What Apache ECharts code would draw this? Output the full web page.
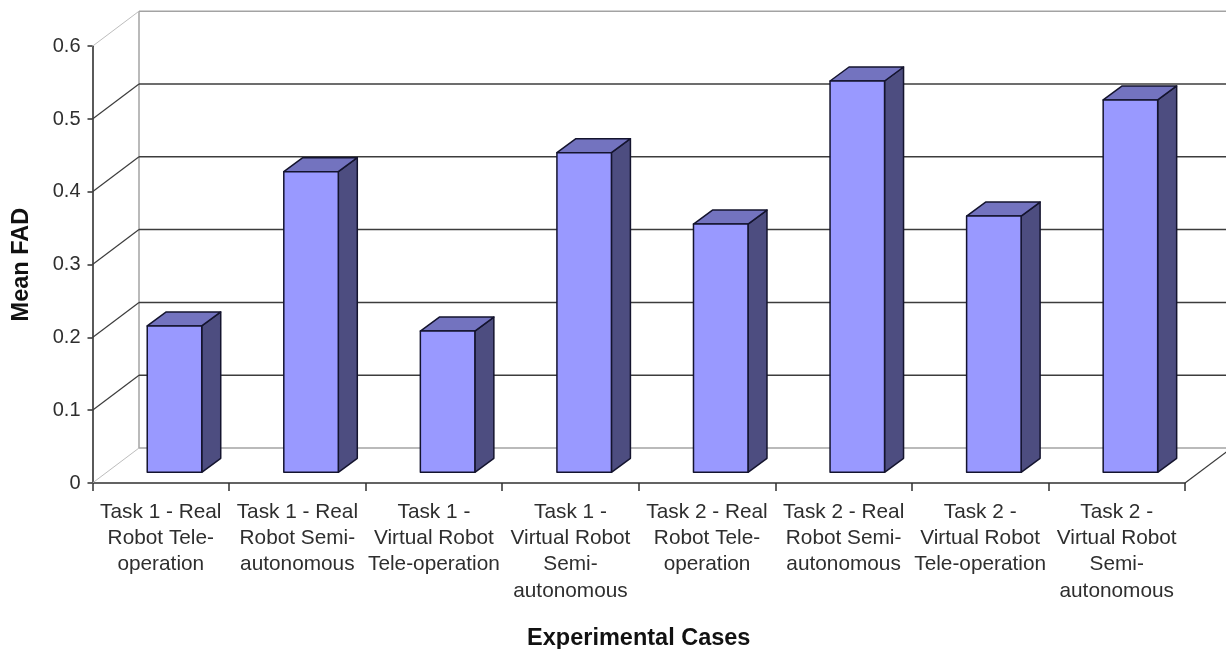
<!DOCTYPE html>
<html>
<head>
<meta charset="utf-8">
<style>html,body{margin:0;padding:0;background:#fff}#c{width:1226px;height:649px}</style>
<script src="https://cdn.jsdelivr.net/npm/echarts@6/dist/echarts.min.js"></script>
</head>
<body>
<div id="c"></div>
<script>
const categories = [
  'Task 1 - Real\nRobot Tele-\noperation',
  'Task 1 - Real\nRobot Semi-\nautonomous',
  'Task 1 -\nVirtual Robot\nTele-operation',
  'Task 1 -\nVirtual Robot\nSemi-\nautonomous',
  'Task 2 - Real\nRobot Tele-\noperation',
  'Task 2 - Real\nRobot Semi-\nautonomous',
  'Task 2 -\nVirtual Robot\nTele-operation',
  'Task 2 -\nVirtual Robot\nSemi-\nautonomous'
];
const meanFAD = [0.201, 0.413, 0.194, 0.439, 0.341, 0.5375, 0.352, 0.5115];
const gridValues = [0, 0.1, 0.2, 0.3, 0.4, 0.5, 0.6];

const WALL_DX = 46.5, WALL_DY = -35;
const BAR_DX = 13.7, BAR_DY = -10.7;
const BAR_DEPTH_X = 19, BAR_DEPTH_Y = -14;
const BAR_W = 54.5;
const DARK = '#3c3c3c', GREY = '#a3a3a3', LIGHT = '#bdbdbd', EDGE = '#14142e';

function renderWall(params, api) {
  const v = api.value(1);
  const cs = params.coordSys;
  const y = api.coord([0, v])[1];
  const x0 = cs.x, x1 = cs.x + cs.width;
  const edge = v === 0 || v === 0.6;
  const ch = [
    {type: 'line', shape: {x1: x0, y1: y, x2: x0 + WALL_DX, y2: y + WALL_DY},
     style: {stroke: edge ? LIGHT : DARK, lineWidth: edge ? 1 : 1.2}},
    {type: 'line', shape: {x1: x0 + WALL_DX, y1: y + WALL_DY, x2: x1 + WALL_DX, y2: y + WALL_DY},
     style: {stroke: edge ? GREY : DARK, lineWidth: 1.5}}
  ];
  if (v === 0) {
    const top = api.coord([0, 0.6])[1];
    ch.push({type: 'line', shape: {x1: x0 + WALL_DX, y1: y + WALL_DY, x2: x0 + WALL_DX, y2: top + WALL_DY},
      style: {stroke: GREY, lineWidth: 1.5}});
    ch.push({type: 'line', shape: {x1: x1, y1: y, x2: x1 + WALL_DX, y2: y + WALL_DY},
      style: {stroke: DARK, lineWidth: 1.2}});
  }
  return {type: 'group', children: ch};
}

function renderBar(params, api) {
  const p = api.coord([api.value(0), api.value(1)]);
  const b = api.coord([api.value(0), 0]);
  const l = p[0] + BAR_DX - BAR_W / 2, r = l + BAR_W;
  const t = p[1] + BAR_DY, bt = b[1] + BAR_DY;
  const dx = BAR_DEPTH_X, dy = BAR_DEPTH_Y;
  const stroke = {stroke: EDGE, lineWidth: 1.5, lineJoin: 'round'};
  return {type: 'group', children: [
    {type: 'polygon', shape: {points: [[r, t], [r + dx, t + dy], [r + dx, bt + dy], [r, bt]]},
     style: Object.assign({fill: '#4d4d80'}, stroke)},
    {type: 'polygon', shape: {points: [[l, t], [l + dx, t + dy], [r + dx, t + dy], [r, t]]},
     style: Object.assign({fill: '#7373bf'}, stroke)},
    {type: 'rect', shape: {x: l, y: t, width: BAR_W, height: bt - t},
     style: Object.assign({fill: '#9999ff'}, stroke)}
  ]};
}

const chart = echarts.init(document.getElementById('c'), null, {renderer: 'canvas'});
const labelColor = '#2e2e2e';
const fontFamily = '"Liberation Sans", Arial, sans-serif';
chart.setOption({
  animation: false,
  backgroundColor: '#fff',
  grid: {left: 92.5, right: 41, top: 46.2, bottom: 166, outerBoundsMode: 'none'},
  xAxis: {
    type: 'category',
    data: categories,
    name: 'Experimental Cases',
    nameLocation: 'middle',
    nameGap: 144,
    nameTextStyle: {fontFamily, fontSize: 23.5, fontWeight: 'bold', color: '#111'},
    axisLine: {lineStyle: {color: '#303030', width: 1.6}},
    axisTick: {show: true, length: 8, lineStyle: {color: '#303030', width: 1.5}},
    axisLabel: {interval: 0, margin: 16, fontFamily, fontSize: 20.8, lineHeight: 26.3, color: labelColor, hideOverlap: false},
    splitLine: {show: false}
  },
  yAxis: {
    type: 'value',
    min: 0, max: 0.6, interval: 0.1,
    name: 'Mean FAD',
    nameLocation: 'middle',
    nameGap: 59,
    nameTextStyle: {fontFamily, fontSize: 23.5, fontWeight: 'bold', color: '#111'},
    axisLine: {show: true, lineStyle: {color: '#303030', width: 1.6}},
    axisTick: {show: true, length: 5, lineStyle: {color: '#303030', width: 1.5}},
    axisLabel: {margin: 12, fontFamily, fontSize: 20, color: labelColor},
    splitLine: {show: false}
  },
  series: [
    {type: 'custom', name: 'walls', coordinateSystem: 'cartesian2d', clip: false, silent: true, z: 1,
     renderItem: renderWall, encode: {x: 0, y: 1}, data: gridValues.map(v => [0, v])},
    {type: 'custom', name: 'Mean FAD', coordinateSystem: 'cartesian2d', clip: false, z: 3,
     renderItem: renderBar, encode: {x: 0, y: 1}, data: meanFAD.map((v, i) => [i, v])}
  ]
});
</script>
</body>
</html>
